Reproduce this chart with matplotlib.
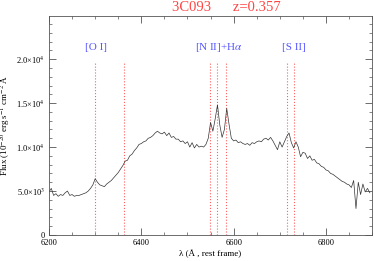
import numpy as np
import matplotlib
matplotlib.use('Agg')
import matplotlib.pyplot as plt
from matplotlib.ticker import MultipleLocator, FuncFormatter

# spectrum (flux in units of 1e3)
wave_start = 6200
wave_step = 5
flux_k = [4.9, 5.3, 4.5, 4.7, 4.4, 4.6, 4.5, 4.8, 5.0, 4.5,
          4.6, 4.4, 4.5, 4.5, 4.6, 4.7, 4.8, 5.0, 5.3, 5.7,
          6.4, 6.0, 5.7, 5.6, 5.5, 5.8, 6.0, 6.2, 6.5, 6.8,
          7.1, 7.5, 7.9, 8.4, 8.5, 9.0, 9.2, 9.6, 9.9, 10.3,
          10.4, 10.6, 10.7, 11.0, 11.1, 11.3, 11.6, 11.8, 11.6, 11.5,
          11.7, 11.3, 11.6, 11.1, 11.2, 10.9, 10.9, 10.6, 10.7, 10.4,
          10.6, 10.0, 10.5, 9.9, 10.3, 10.0, 10.1, 10.0, 10.3, 11.0,
          12.8, 11.8, 13.2, 14.8, 12.5, 11.1, 12.0, 14.4, 12.6, 11.0,
          10.7, 10.8, 10.5, 10.6, 10.4, 10.3, 10.4, 10.2, 10.5, 10.4,
          10.6, 10.7, 10.6, 10.9, 11.0, 10.8, 11.1, 10.7, 10.2, 9.7,
          10.6, 10.0, 10.6, 11.2, 11.6, 10.5, 9.9, 10.6, 10.0, 8.9,
          9.4, 9.3, 8.7, 9.0, 8.5, 8.6, 8.2, 8.1, 7.8, 7.7,
          7.4, 7.3, 7.0, 6.9, 6.7, 6.5, 6.3, 6.1, 6.0, 5.8,
          5.7, 5.4, 6.2, 3.0, 6.0, 4.6, 5.8, 4.9, 5.3, 4.8]
wave = wave_start + wave_step * np.arange(len(flux_k))
flux = np.array(flux_k) * 1000

lines = [6300, 6363, 6548, 6563, 6583, 6716, 6731]
labels = ['[O I]', r'[N II]+H$\alpha$', '[S II]']
label_x = [6302, 6569, 6731]
label_y = 21300

plt.rcParams['font.family'] = 'Liberation Serif'
plt.rcParams['mathtext.fontset'] = 'stix'

fig = plt.figure(figsize=(3.74, 2.61), dpi=100, facecolor='white')
ax = fig.add_axes([0.131, 0.0996, 0.864, 0.839])

for l in lines:
    ax.axvline(l, ymax=19600/24900, color='#ff6060', ls=':', lw=0.8)
ax.plot(wave, flux, color='#333333', lw=0.5)

for t, x in zip(labels, label_x):
    ax.text(x, label_y, t, color='#5555ff', fontsize=8, ha='center', va='center')

ax.set_xlim(6200, 6900)
ax.set_ylim(0, 24900)
ax.xaxis.set_major_locator(MultipleLocator(200))
ax.xaxis.set_minor_locator(MultipleLocator(50))
ax.yaxis.set_major_locator(MultipleLocator(5000))
ax.yaxis.set_minor_locator(MultipleLocator(1000))

def yfmt(v, pos):
    if v <= 0:
        return '0'
    e = int(np.floor(np.log10(v)))
    return '%.1f×10$^{%d}$' % (v / 10**e, e)
ax.yaxis.set_major_formatter(FuncFormatter(yfmt))

ax.tick_params(which='both', direction='in', top=True, right=True,
               labelsize=6, color='#555555', pad=3)
ax.tick_params(which='major', length=5, width=0.6)
ax.tick_params(which='minor', length=2.5, width=0.5)
for s in ax.spines.values():
    s.set_linewidth(0.6)
    s.set_color('#555555')

ax.set_xlabel(u'λ (Å , rest frame)', fontsize=6.5, labelpad=2)
ax.set_ylabel(r'Flux (10$^{-20}$ erg s$^{-1}$ cm$^{-2}$ Å', fontsize=6.5, labelpad=2)

fig.text(0.605, 0.972, '3C093      z=0.357', color='#ff4444', fontsize=10.5,
         ha='center', va='center')

plt.savefig('out.png', dpi=100)
